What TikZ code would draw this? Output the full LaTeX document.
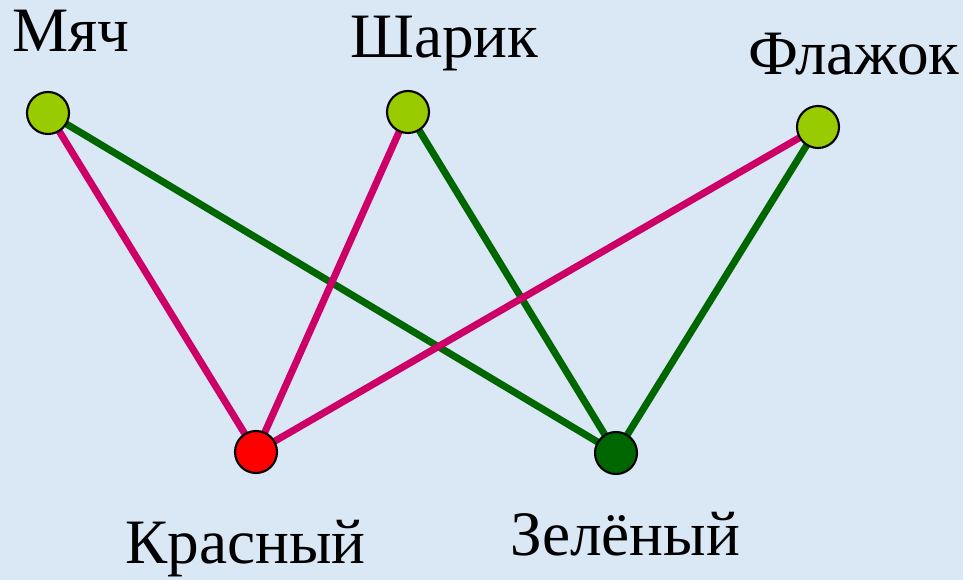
\documentclass[tikz,border=0pt]{standalone}
\usepackage{fontspec}
\setmainfont{Liberation Serif}
\usetikzlibrary{positioning}
\definecolor{sky}{HTML}{DAE7F4}
\definecolor{lime}{HTML}{99CC00}
\definecolor{berry}{HTML}{CC0066}
\definecolor{leaf}{HTML}{006600}
\pgfdeclarelayer{back}
\pgfdeclarelayer{edges}
\pgfsetlayers{back,edges,main}

\begin{document}
\begin{tikzpicture}[x=0.02cm,y=-0.02cm,
    vert/.style={circle,draw=black,line width=1.2pt,minimum size=0.84cm,inner sep=0pt},
    word/.style={anchor=base west,inner sep=0pt,font=\fontsize{36}{40}\selectfont},
    redline/.style={line width=4pt,berry},
    greenline/.style={line width=4pt,leaf}]
        \begin{pgfonlayer}{back}
          \fill[sky] (0,0) rectangle (963,580);
        \end{pgfonlayer}
        \useasboundingbox (0,0) rectangle (963,580);
        % objects
        \node[vert,fill=lime] (mjach) at (48,113) {};
        \node[vert,fill=lime] (sharik) at (408,112) {};
        \node[vert,fill=lime] (flazhok) at (818,127) {};
        % colours
        \node[vert,fill=red] (krasnyj) at (256,452) {};
        \node[vert,fill=leaf] (zelenyj) at (616,453) {};
        \node[word] (mjach-t) at (12,52) {Мяч};
        \node[word] (sharik-t) at (350,58) {Шарик};
        \node[word] (flazhok-t) at (748,75) {Флажок};
        \node[word] (krasnyj-t) at (125,563) {Красный};
        \node[word] (zelenyj-t) at (510,555) {Зелёный};
        \begin{pgfonlayer}{edges}
          \foreach \a in {mjach,sharik,flazhok}{
            \draw[redline] (\a.center) -- (krasnyj.center);
            \draw[greenline] (\a.center) -- (zelenyj.center);
          }
        \end{pgfonlayer}
      \end{tikzpicture}
\end{document}
